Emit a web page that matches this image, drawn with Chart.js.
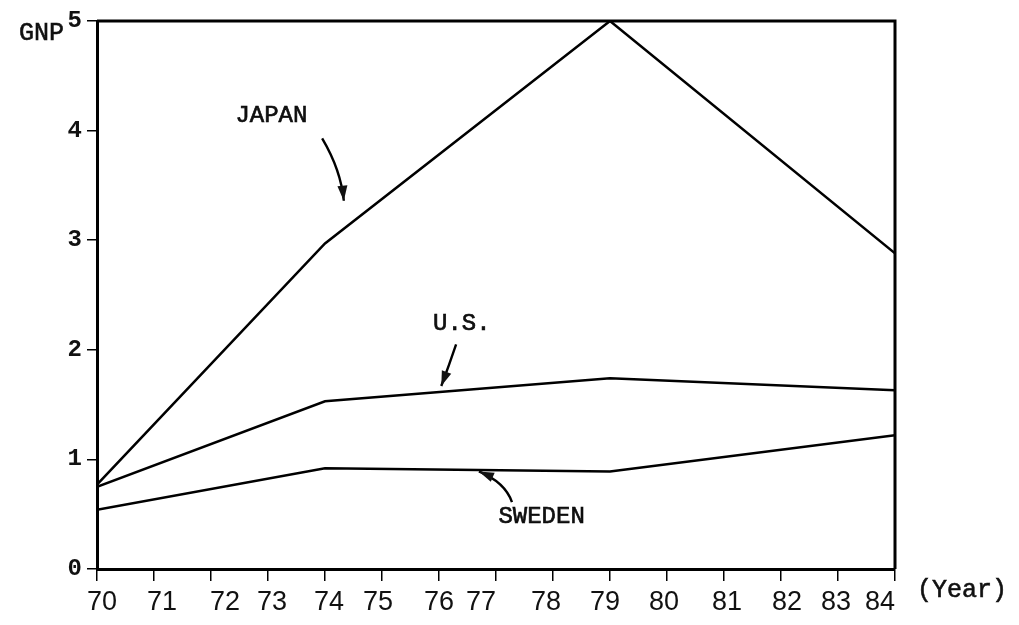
<!DOCTYPE html>
<html>
<head>
<meta charset="utf-8">
<script src="https://cdn.jsdelivr.net/npm/chart.js@4.4.1/dist/chart.umd.min.js"></script>
<style>
  html, body { margin: 0; padding: 0; background: #fff; }
  #wrap { width: 1019px; height: 625px; }
</style>
</head>
<body>
<div id="wrap"><canvas id="gnpChart"></canvas></div>
<script>
// GNP growth
const years = [70, 74, 79, 84];
const japan = [0.77, 2.97, 5.0, 2.88];
const us = [0.75, 1.53, 1.74, 1.63];
const sweden = [0.54, 0.92, 0.89, 1.22];

const yearTicks = [70, 71, 72, 73, 74, 75, 76, 77, 78, 79, 80, 81, 82, 83, 84];
const gnpTicks = [0, 1, 2, 3, 4, 5];

// the typed year labels don't sit exactly under their ticks (px shift)
const yearNudge = [5, 8, 14, 4, 4, -4, 0, -15, -7, -5, -3, 3, 6, -2, -15];

// callouts: label position and arrow path, in data units
const callouts = [
  { text: 'JAPAN',  at: [73.06, 4.14], from: [73.95, 3.93], ctrl: [74.28, 3.64], to: [74.33, 3.36] },
  { text: 'U.S.',   at: [76.4, 2.24],  from: [76.3, 2.05],  ctrl: [76.17, 1.85], to: [76.04, 1.67] },
  { text: 'SWEDEN', at: [77.8, 0.48],  from: [77.28, 0.61], ctrl: [77.16, 0.79], to: [76.7, 0.89] }
];

const typeFont = '"Liberation Mono", "DejaVu Sans Mono", monospace';

function typed(ctx, s, x, y) {
  ctx.fillText(s, x, y);
  ctx.strokeText(s, x, y);
}

const frame = {
  id: 'frame',
  afterDraw(chart) {
    const { ctx, chartArea: a, scales: { x } } = chart;
    ctx.save();
    ctx.strokeStyle = '#000';
    ctx.lineWidth = 3;
    ctx.beginPath();
    ctx.moveTo(a.left, a.top);
    ctx.lineTo(a.right, a.top);
    ctx.lineTo(a.right, a.bottom);
    ctx.stroke();

    ctx.fillStyle = '#111';
    ctx.strokeStyle = '#111';
    ctx.lineWidth = 0.6;
    ctx.font = '25px ' + typeFont;
    ctx.textBaseline = 'middle';
    ctx.textAlign = 'right';
    typed(ctx, 'GNP', 64, 33);
    ctx.textAlign = 'left';
    typed(ctx, '(Year)', a.right + 22, a.bottom + 21);

    // year labels
    ctx.font = '27px "Liberation Sans", Arial, sans-serif';
    ctx.textAlign = 'center';
    yearTicks.forEach((yr, i) => {
      ctx.fillText(String(yr), x.getPixelForValue(yr) + yearNudge[i], a.bottom + 34);
    });
    ctx.restore();
  }
};

const notes = {
  id: 'notes',
  afterDatasetsDraw(chart) {
    const { ctx, scales: { x, y } } = chart;
    const px = p => [x.getPixelForValue(p[0]), y.getPixelForValue(p[1])];
    ctx.save();
    ctx.fillStyle = '#111';
    ctx.strokeStyle = '#000';
    ctx.font = '24px ' + typeFont;
    ctx.textAlign = 'center';
    ctx.textBaseline = 'middle';
    callouts.forEach(c => {
      const [tx, ty] = px(c.at);
      ctx.lineWidth = 0.6;
      typed(ctx, c.text, tx, ty);
      const [x0, y0] = px(c.from);
      const [cx, cy] = px(c.ctrl);
      const [x1, y1] = px(c.to);
      ctx.lineWidth = 2.4;
      ctx.beginPath();
      ctx.moveTo(x0, y0);
      ctx.quadraticCurveTo(cx, cy, x1, y1);
      ctx.stroke();
      // arrow head along the end tangent
      const ang = Math.atan2(y1 - cy, x1 - cx);
      const len = 15, half = 5;
      ctx.beginPath();
      ctx.moveTo(x1, y1);
      ctx.lineTo(x1 - len * Math.cos(ang) + half * Math.sin(ang), y1 - len * Math.sin(ang) - half * Math.cos(ang));
      ctx.lineTo(x1 - len * Math.cos(ang) - half * Math.sin(ang), y1 - len * Math.sin(ang) + half * Math.cos(ang));
      ctx.closePath();
      ctx.fill();
    });
    ctx.restore();
  }
};

const line = (label, values) => ({
  label,
  data: years.map((yr, i) => ({ x: yr, y: values[i] })),
  borderColor: '#000',
  borderWidth: 2.5,
  pointRadius: 0,
  tension: 0,
  fill: false
});

new Chart(document.getElementById('gnpChart'), {
  type: 'line',
  data: {
    datasets: [line('JAPAN', japan), line('U.S.', us), line('SWEDEN', sweden)]
  },
  options: {
    responsive: true,
    maintainAspectRatio: false,
    animation: false,
    layout: { padding: { top: 21, right: 124, left: 0, bottom: 0 } },
    plugins: {
      legend: { display: false },
      tooltip: { enabled: false }
    },
    scales: {
      x: {
        type: 'linear',
        min: yearTicks[0],
        max: yearTicks[yearTicks.length - 1],
        afterFit: s => { s.height = 56; },
        afterBuildTicks: s => { s.ticks = yearTicks.map(v => ({ value: v })); },
        border: { display: true, width: 3, color: '#000' },
        grid: { drawOnChartArea: false, drawTicks: true, tickLength: 12, color: '#000', lineWidth: 1.5 },
        ticks: {
          autoSkip: false,
          maxRotation: 0,
          color: 'rgba(0,0,0,0)',
          font: { size: 26 }
        }
      },
      y: {
        min: gnpTicks[0],
        max: gnpTicks[gnpTicks.length - 1],
        afterFit: s => { s.width = 97; },
        afterBuildTicks: s => { s.ticks = gnpTicks.map(v => ({ value: v })); },
        border: { display: true, width: 3, color: '#000' },
        grid: { drawOnChartArea: false, drawTicks: true, tickLength: 10, color: '#000', lineWidth: 1.5 },
        ticks: {
          padding: 5,
          color: '#111',
          font: { family: typeFont, size: 24, weight: 'bold' },
          callback: v => String(v)
        }
      }
    }
  },
  plugins: [frame, notes]
});
</script>
</body>
</html>
